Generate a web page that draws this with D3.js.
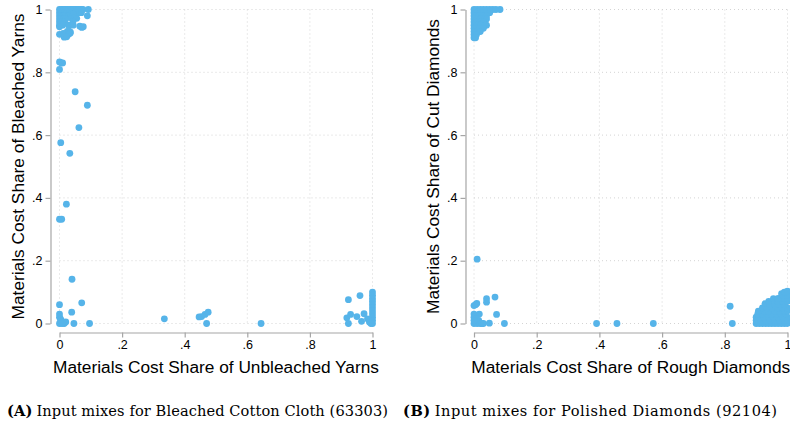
<!DOCTYPE html>
<html>
<head>
<meta charset="utf-8">
<script src="https://cdn.jsdelivr.net/npm/d3@7"></script>
<style>
  body { margin: 0; background: #fff; }
  svg { display: block; }
</style>
</head>
<body>
<svg id="chart" width="790" height="429"></svg>
<script>
// tick values shared by both panels
const ticks = [0, 0.2, 0.4, 0.6, 0.8, 1]
const tickLabels = ['0', '.2', '.4', '.6', '.8', '1']

// panel A: bleached cotton cloth, [unbleached share, bleached share]
const cottonPoints = [
  [0,1],[0.005,1],[0.01,1],[0.015,1],[0.02,1],[0.025,1],[0.03,1],[0.035,1],[0.04,1],[0.045,1],
  [0.05,1],[0.055,1],[0.06,1],[0.065,1],[0.07,1],[0.075,1],[0.092,1],
  [0,0.99],[0.008,0.99],[0.016,0.99],[0.024,0.99],[0.032,0.99],[0.04,0.99],[0.05,0.99],[0.06,0.99],[0.07,0.99],
  [0,0.98],[0.006,0.98],[0.012,0.98],[0.02,0.98],[0.028,0.98],[0.036,0.98],[0.044,0.985],[0.089,0.98],
  [0,0.97],[0.005,0.97],[0.012,0.97],[0.02,0.97],[0.039,0.972],[0.05,0.975],[0.055,0.972],
  [0,0.96],[0.007,0.961],[0.015,0.96],[0.043,0.962],
  [0,0.95],[0.01,0.95],[0.029,0.95],[0.044,0.95],
  [0,0.945],[0.065,0.947],[0.071,0.943],[0.076,0.945],
  [0.025,0.93],[0.03,0.932],[0.035,0.928],
  [0,0.921],[0.012,0.924],[0.028,0.92],[0.034,0.924],
  [0.015,0.912],[0.023,0.913],
  [0,0.833],[0.006,0.83],[0.01,0.83],[0,0.809],
  [0.05,0.738],[0.089,0.695],[0.062,0.624],[0.004,0.576],[0.033,0.542],
  [0.022,0.38],[0,0.332],[0.007,0.332],[0.04,0.141],
  [0,0.06],[0.071,0.066],[0.039,0.036],[0,0.03],[0,0.02],[0.003,0.015],[0.005,0.01],
  [0,0],[0.01,0.005],[0.015,0],[0.02,0.005],[0.008,0],[0.046,0],[0.096,0],
  [0.335,0.015],[0.446,0.021],[0.454,0.022],[0.465,0.029],[0.475,0.036],[0.47,0],[0.644,0],
  [0.923,0.076],[0.96,0.089],[0.918,0.018],[0.93,0.029],[0.923,0],[0.95,0.022],
  [0.973,0.031],[0.965,0.007],[0.984,0.015],[0.99,0.005],[0.995,0],
  [1,0.1],[1,0.09],[1,0.08],[1,0.07],[1,0.06],[1,0.05],[1,0.04],[1,0.03],[1,0.02],[1,0.01],[1,0]
]

// panel B: polished diamonds, [rough share, cut share]
const diamondPoints = [
  [0,1],[0.01,1],[0.02,1],[0.03,1],[0.04,1],[0.05,1],[0.06,1],[0.07,1],[0.083,1],
  [0,0.99],[0.01,0.99],[0.02,0.99],[0.03,0.99],[0.04,0.99],[0.05,0.99],
  [0,0.98],[0.008,0.98],[0.016,0.98],[0.024,0.98],[0.032,0.98],[0.04,0.98],
  [0,0.97],[0.01,0.97],[0.02,0.97],[0.035,0.97],[0.04,0.97],
  [0,0.96],[0.008,0.96],[0.02,0.96],[0.03,0.96],
  [0,0.95],[0.01,0.95],[0.02,0.95],[0.035,0.95],[0.04,0.95],
  [0,0.94],[0.008,0.94],[0.018,0.94],[0.03,0.94],
  [0,0.93],[0.01,0.93],[0.02,0.93],
  [0,0.92],[0.008,0.92],[0,0.91],[0.005,0.91],
  [0.01,0.205],[0,0.057],[0.009,0.064],[0.005,0.06],[0,0.03],[0,0.02],[0.017,0.03],
  [0.04,0.079],[0.04,0.068],[0.067,0.084],[0.072,0.029],[0.049,0.001],[0.097,0],
  [0,0],[0.005,0.005],[0.01,0],[0.015,0.01],[0.02,0],[0.025,0],[0.03,0],[0.008,0.015],[0,0.01],
  [0.391,0],[0.456,0],[0.572,0],[0.817,0.055],[0.824,0],
  [0.9,0],[0.91,0],[0.92,0],[0.93,0],[0.94,0],[0.95,0],[0.96,0],[0.97,0],[0.98,0],[0.99,0],[1,0],
  [0.9,0.01],[0.915,0.01],[0.93,0.01],[0.945,0.01],[0.96,0.01],[0.975,0.01],[0.99,0.01],[1,0.01],
  [0.9,0.02],[0.91,0.02],[0.925,0.02],[0.94,0.02],[0.955,0.02],[0.97,0.02],[0.985,0.02],[1,0.02],
  [0.905,0.03],[0.92,0.03],[0.935,0.03],[0.95,0.03],[0.965,0.03],[0.98,0.03],[0.995,0.03],
  [0.907,0.039],[0.925,0.04],[0.94,0.04],[0.96,0.04],[0.975,0.04],[0.99,0.04],[1,0.04],
  [0.92,0.05],[0.935,0.05],[0.95,0.05],[0.97,0.05],[0.985,0.05],[1,0.05],
  [0.928,0.063],[0.945,0.06],[0.96,0.06],[0.975,0.06],[0.99,0.06],
  [0.94,0.07],[0.955,0.079],[0.97,0.07],[0.985,0.07],[1,0.07],
  [0.97,0.08],[0.99,0.08],[1,0.08],
  [0.981,0.095],[0.985,0.09],[1,0.09],[0.99,0.1],[1,0.103]
]

const panels = [
  { points: cottonPoints, x0: 59.5, x1: 372.5, axisX: 50.5, titleX: 18,
    xTitle: 'Materials Cost Share of Unbleached Yarns',
    yTitle: 'Materials Cost Share of Bleached Yarns',
    capLetter: '(A)', caption: 'Input mixes for Bleached Cotton Cloth (63303)', capX: 7, capW: 381 },
  { points: diamondPoints, x0: 474, x1: 787.5, axisX: 465.5, titleX: 433,
    xTitle: 'Materials Cost Share of Rough Diamonds',
    yTitle: 'Materials Cost Share of Cut Diamonds',
    capLetter: '(B)', caption: 'Input mixes for Polished Diamonds (92104)', capX: 403, capW: 374 }
]

const svg = d3.select('#chart')
const plotTop = 9.5, plotBottom = 323.5, axisY = 332.5
const fmt = (d, i) => tickLabels[i]
const sans = 'Liberation Sans, Arial, sans-serif'

panels.forEach(p => {
  const x = d3.scaleLinear().domain([0, 1]).range([p.x0, p.x1])
  const y = d3.scaleLinear().domain([0, 1]).range([plotBottom, plotTop])
  const g = svg.append('g')

  // dotted grid
  g.selectAll('line.gx').data(ticks).enter().append('line')
    .attr('x1', d => x(d)).attr('x2', d => x(d))
    .attr('y1', plotTop).attr('y2', plotBottom)
    .attr('stroke', '#d4d4d4').attr('stroke-width', 1).attr('stroke-dasharray', '1,3')
  g.selectAll('line.gy').data(ticks).enter().append('line')
    .attr('y1', d => y(d)).attr('y2', d => y(d))
    .attr('x1', p.x0).attr('x2', p.x1)
    .attr('stroke', '#d4d4d4').attr('stroke-width', 1).attr('stroke-dasharray', '1,3')

  // axes, offset from the plot region
  const yAxis = g.append('g').attr('transform', `translate(${p.axisX},0)`)
    .call(d3.axisLeft(y).tickValues(ticks).tickFormat(fmt).tickSize(5).tickSizeOuter(0))
  const xAxis = g.append('g').attr('transform', `translate(0,${axisY})`)
    .call(d3.axisBottom(x).tickValues(ticks).tickFormat(fmt).tickSize(5).tickSizeOuter(0))
  ;[yAxis, xAxis].forEach(a => {
    a.select('.domain').attr('stroke', '#a6a6a6').attr('stroke-width', 1.2)
    a.selectAll('.tick line').attr('stroke', '#a6a6a6').attr('stroke-width', 1.2)
    a.selectAll('.tick text').attr('fill', '#000')
      .style('font-family', sans).style('font-size', '12.5px')
  })
  yAxis.selectAll('.tick text').attr('x', -8)
  xAxis.selectAll('.tick text').attr('y', 8)

  // points
  g.selectAll('circle').data(p.points).enter().append('circle')
    .attr('cx', d => x(d[0])).attr('cy', d => y(d[1]))
    .attr('r', 3.4).attr('fill', '#56b4e9')

  // axis titles
  g.append('text')
    .attr('transform', `translate(${p.titleX},${(plotTop + plotBottom) / 2}) rotate(-90)`)
    .attr('text-anchor', 'middle').attr('dy', '0.35em')
    .style('font-family', sans).style('font-size', '17.3px')
    .text(p.yTitle)
  g.append('text')
    .attr('x', (p.x0 + p.x1) / 2).attr('y', 367).attr('dy', '0.35em')
    .attr('text-anchor', 'middle')
    .style('font-family', sans).style('font-size', '17.3px')
    .text(p.xTitle)

  // caption below the panel
  const cap = g.append('text').attr('x', p.capX).attr('y', 416)
    .attr('textLength', p.capW).attr('lengthAdjust', 'spacing')
    .style('font-family', 'DejaVu Serif, Liberation Serif, serif').style('font-size', '14.6px')
  cap.append('tspan').style('font-weight', 'bold').text(p.capLetter)
  cap.append('tspan').attr('dx', 4).text(p.caption)
})
</script>
</body>
</html>
